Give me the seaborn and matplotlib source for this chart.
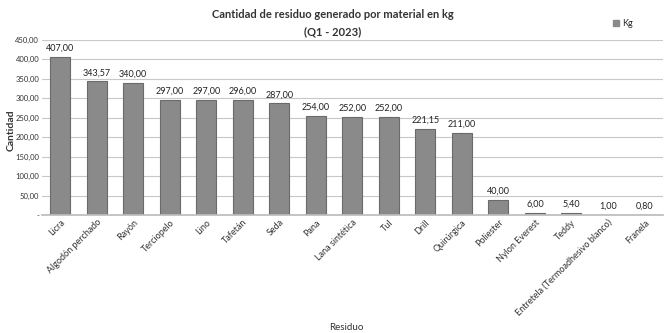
import matplotlib
matplotlib.use("Agg")
import matplotlib.pyplot as plt
import seaborn as sns
import pandas as pd

materiales = ["Licra", "Algodón perchado", "Rayón", "Terciopelo", "Lino", "Tafetán",
              "Seda", "Pana", "Lana sintética", "Tul", "Drill", "Quirúrgica",
              "Poliester", "Nylon Everest", "Teddy", "Entretela (Termoadhesivo blanco)",
              "Franela"]
kg = [407.00, 343.57, 340.00, 297.00, 297.00, 296.00, 287.00, 254.00, 252.00,
      252.00, 221.15, 211.00, 40.00, 6.00, 5.40, 1.00, 0.80]
yticks = [0, 50, 100, 150, 200, 250, 300, 350, 400, 450]

sns.set_theme(style="white")
plt.rcParams['font.family'] = ['Lato', 'DejaVu Sans']

df = pd.DataFrame({"Residuo": materiales, "Kg": kg})

fig = plt.figure(figsize=(6.66, 3.33), dpi=100)
ax = fig.add_axes([0.063, 0.354, 0.932, 0.526])
sns.barplot(data=df, x="Residuo", y="Kg", color="#8a8a8a", edgecolor="#6a6a6a",
            linewidth=0.8, width=0.55, ax=ax, legend=False)

def fmt(v):
    return f"{v:,.2f}".replace(",", "X").replace(".", ",").replace("X", ".")

ax.set_ylim(0, 450)
ax.set_yticks(yticks)
ax.set_yticklabels(["-" if t == 0 else fmt(t) for t in yticks], fontsize=5.5, color="#333333")
ax.yaxis.grid(True, color="#c8c8c8", linewidth=0.8)
ax.set_axisbelow(True)
for s in ["top", "right", "left"]:
    ax.spines[s].set_visible(False)
ax.spines["bottom"].set_color("#bdbdbd")
ax.tick_params(axis="both", length=0, pad=2)

for c in ax.containers:
    ax.bar_label(c, labels=[fmt(v) for v in kg], fontsize=6.5, padding=3, color="#222222")

ax.set_xticks(range(len(materiales)))
ax.set_xticklabels(materiales, rotation=45, ha="right", rotation_mode="anchor",
                   fontsize=6.5, color="#333333")
ax.set_xlim(-0.5, len(materiales) - 0.5)

ax.set_xlabel("Residuo", fontsize=7, color="#333333")
ax.xaxis.set_label_coords(0.49, -0.615)
ax.set_ylabel("")
fig.text(0.017, 0.61, "Cantidad", rotation=90, ha="center", va="center",
         fontsize=7.5, fontweight="bold", color="#333333")

fig.text(0.5, 0.955, "Cantidad de residuo generado por material en kg",
         ha="center", va="center", fontsize=8, fontweight="bold", color="#333333")
fig.text(0.5, 0.905, "(Q1 - 2023)", ha="center", va="center", fontsize=8,
         fontweight="bold", color="#333333")

ax.legend(handles=[plt.Rectangle((0, 0), 1, 1, color="#8a8a8a")], labels=["Kg"],
          loc="upper right", bbox_to_anchor=(0.965, 1.165), frameon=False,
          fontsize=6.5, handlelength=0.7, handleheight=0.7, handletextpad=0.3)

fig.savefig("out.png", dpi=100, facecolor="white")
